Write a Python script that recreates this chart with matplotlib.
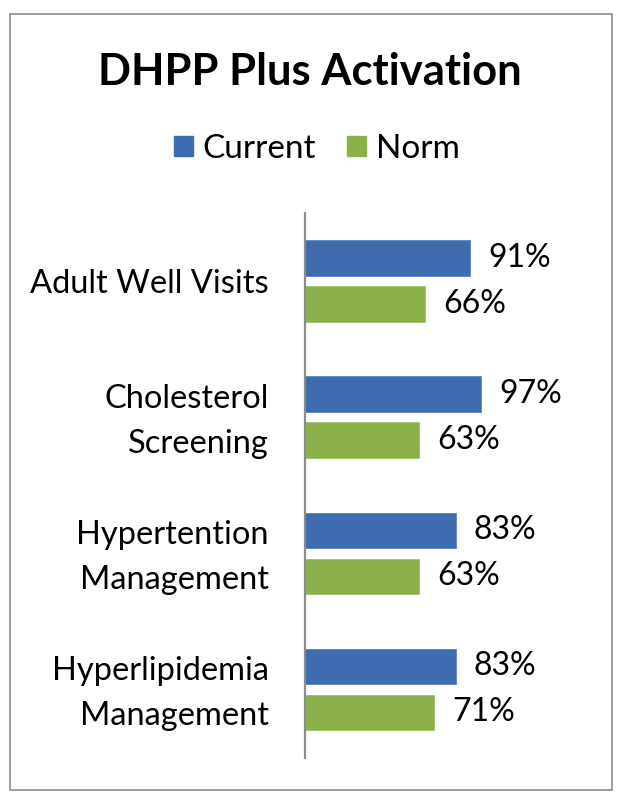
import numpy as np
import matplotlib
matplotlib.use('Agg')
import matplotlib.pyplot as plt
import matplotlib.transforms as mtransforms
from matplotlib.patches import Rectangle, Patch

categories = ['Adult Well Visits', 'Cholesterol\nScreening', 'Hypertention\nManagement', 'Hyperlipidemia\nManagement']
current = [91, 97, 83, 83]
norm = [66, 63, 63, 71]
series_names = ['Current', 'Norm']

blue = '#3E6CB0'
green = '#8BB04A'
font = 'Lato'

fig = plt.figure(figsize=(6.18, 8.0), dpi=100)

# chart border
fig.patches.append(Rectangle((10 / 618, 10 / 800), 602 / 618, 776 / 800, transform=fig.transFigure,
                             fill=False, edgecolor='#8c8c8c', linewidth=1.2))

ax = fig.add_axes([305 / 618, 42.5 / 800, 181.5 / 618, 544.5 / 800])

y = np.arange(len(categories))
offset = 0.169
h = 0.26
bars_c = ax.barh(y - offset, current, height=h, color=blue, edgecolor='#5a84c4', linewidth=0.6)
bars_n = ax.barh(y + offset, norm, height=h, color=green, edgecolor='#a3c46e', linewidth=0.6)

for bars, vals in [(bars_c, current), (bars_n, norm)]:
    for b, v in zip(bars, vals):
        ax.annotate(f'{v}%', (b.get_width(), b.get_y() + b.get_height() / 2),
                    xytext=(13, 0), textcoords='offset points', va='center', ha='left',
                    fontsize=23, family=font)

ax.set_xlim(0, 100)
ax.set_ylim(len(categories) - 0.5, -0.5)
ax.set_yticks(y)
ax.set_yticklabels(categories, fontsize=23.5, family=font, ha='right', multialignment='right', linespacing=1.62)
ax.tick_params(axis='y', length=0, pad=26)
ax.set_xticks([])

# nudge two-line labels up a little
shift = mtransforms.ScaledTranslation(0, 6 / 100, fig.dpi_scale_trans)
for lbl in ax.get_yticklabels():
    if '\n' in lbl.get_text():
        lbl.set_transform(lbl.get_transform() + shift)

for s in ['top', 'right', 'bottom']:
    ax.spines[s].set_visible(False)
ax.spines['left'].set_color('#8c8c8c')
ax.spines['left'].set_linewidth(1.6)

fig.text(310 / 618, 1 - 72 / 800, 'DHPP Plus Activation', ha='center', va='center',
         fontsize=31.3, fontweight='bold', family=font)

handles = [Patch(color=blue, label=series_names[0]), Patch(color=green, label=series_names[1])]
fig.legend(handles=handles, loc='center', bbox_to_anchor=(317 / 618, 1 - 149 / 800), ncol=2,
           frameon=False, prop={'family': font, 'size': 24}, handlelength=0.57, handleheight=0.57,
           handletextpad=0.3, columnspacing=0.93)

plt.savefig('out.png', dpi=100)
